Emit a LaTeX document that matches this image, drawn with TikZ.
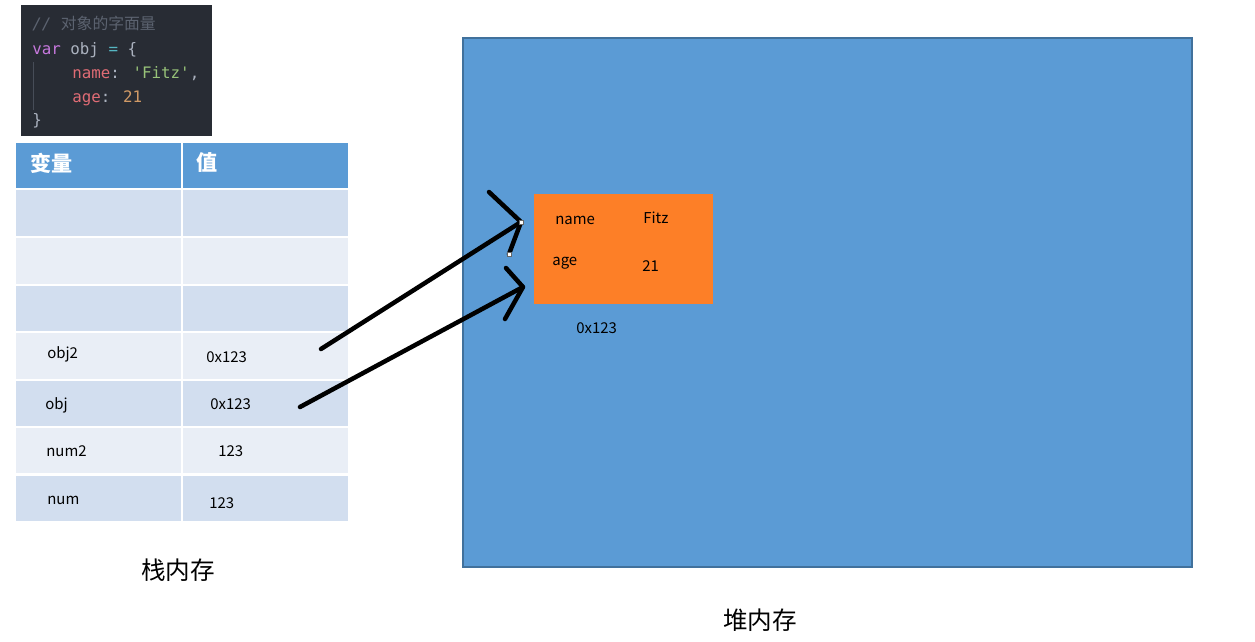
\documentclass[tikz,border=0pt]{standalone}
\usepackage{fontspec}
\setmainfont{Noto Sans CJK SC}
\newfontfamily\codefont{DejaVu Sans Mono}
\newfontfamily\cjk{Noto Sans CJK SC}
\definecolor{hdr}{HTML}{5B9BD5}
\definecolor{rowA}{HTML}{D2DEEF}
\definecolor{rowB}{HTML}{E9EEF6}
\definecolor{heap}{HTML}{5B9BD5}
\definecolor{heapb}{HTML}{41719C}
\definecolor{org}{HTML}{FD7F27}
\definecolor{codebg}{HTML}{282C34}
\definecolor{ckw}{HTML}{C678DD}
\definecolor{cvar}{HTML}{ABB2BF}
\definecolor{cprop}{HTML}{E06C75}
\definecolor{cstr}{HTML}{98C379}
\definecolor{cnum}{HTML}{D19A66}
\definecolor{ccom}{HTML}{5C6370}
\definecolor{cop}{HTML}{56B6C2}
\tikzset{
  lbl/.style={font=\fontsize{8.5}{10}\selectfont, inner sep=0pt},
  code/.style={font=\codefont\fontsize{9}{11}\selectfont, anchor=west, inner sep=0pt},
  hand/.style={line width=0.09cm, line cap=round, line join=round},
  big/.style={font=\cjk\fontsize{14}{16}\selectfont}
}
\begin{document}
\begin{tikzpicture}[x=0.02cm,y=-0.02cm]
\useasboundingbox (0,0) rectangle (1255,642);
\fill[white] (0,0) rectangle (1255,642);
% code
\fill[codebg] (21,5) rectangle (212,136);
\draw[ccom!60!codebg, line width=0.5pt] (33,62) -- (33,110);
\node[code, text=ccom] (c0) at (32,24) {\itshape // {\cjk\fontsize{9}{11}\selectfont 对象的字面量}};
\node[code] (c1) at (32,50) {\textcolor{ckw}{var} \textcolor{cvar}{obj} \textcolor{cop}{=} \textcolor{cvar}{\{}};
\node[code] (c2) at (72,74) {\textcolor{cprop}{name}\textcolor{cvar}{:} \textcolor{cstr}{'Fitz'}\textcolor{cvar}{,}};
\node[code] (c3) at (72,98) {\textcolor{cprop}{age}\textcolor{cvar}{:} \textcolor{cnum}{21}};
\node[code] (c4) at (32,121) {\textcolor{cvar}{\}}};
% table
\fill[hdr] (16,143) rectangle (348,188);
\fill[rowA] (16,190) rectangle (348,236);
\fill[rowB] (16,238) rectangle (348,284);
\fill[rowA] (16,286) rectangle (348,331);
\fill[rowB] (16,333) rectangle (348,379);
\fill[rowA] (16,381) rectangle (348,426);
\fill[rowB] (16,428) rectangle (348,473);
\fill[rowA] (16,476) rectangle (348,521);
\draw[white, line width=1.2pt] (182,143) -- (182,521);
\node[font=\cjk\bfseries\fontsize{12}{14}\selectfont, text=white, anchor=west] (h1) at (24,163) {变量};
\node[font=\cjk\bfseries\fontsize{12}{14}\selectfont, text=white, anchor=west] (h2) at (190,163) {值};
\node[lbl, anchor=west] (v1) at (47,354) {obj2};
\node[lbl, anchor=west] (v2) at (45,405) {obj};
\node[lbl, anchor=west] (v3) at (46,451) {num2};
\node[lbl, anchor=west] (v4) at (47,500) {num};
\node[lbl, anchor=west] (w1) at (206,357) {0x123};
\node[lbl, anchor=west] (w2) at (210,404) {0x123};
\node[lbl, anchor=west] (w3) at (218,451) {123};
\node[lbl, anchor=west] (w4) at (209,503) {123};
\node[big] (stk) at (178,570) {栈内存};
% heap
\draw[heapb, fill=heap, line width=1pt] (463,38) rectangle (1192,567);
\fill[org] (534,194) rectangle (713,304);
\node[lbl, anchor=west] (n1) at (555,220) {name};
\node[lbl, anchor=west] (n2) at (643,218) {Fitz};
\node[lbl, anchor=west] (n3) at (552,263) {age};
\node[lbl, anchor=west] (n4) at (642,266) {21};
\node[lbl, anchor=west] (addr) at (576,328) {0x123};
\node[big] (hp) at (760,620) {堆内存};
% arrows
\coordinate (s1) at (321,349); \coordinate (t1) at (521,222);
\coordinate (s2) at (300,407); \coordinate (t2) at (523,287);
\draw[hand] (s1) -- (t1);
\draw[hand] (489,192) -- (t1) -- (509,254);
\draw[hand] (s2) -- (t2);
\draw[hand] (506,268) -- (t2) -- (505,319);
\draw[fill=white, draw=black!60, line width=0.3pt] (519,220) rectangle (523,224);
\draw[fill=white, draw=black!60, line width=0.3pt] (507,252) rectangle (511,256);
\end{tikzpicture}
\end{document}
